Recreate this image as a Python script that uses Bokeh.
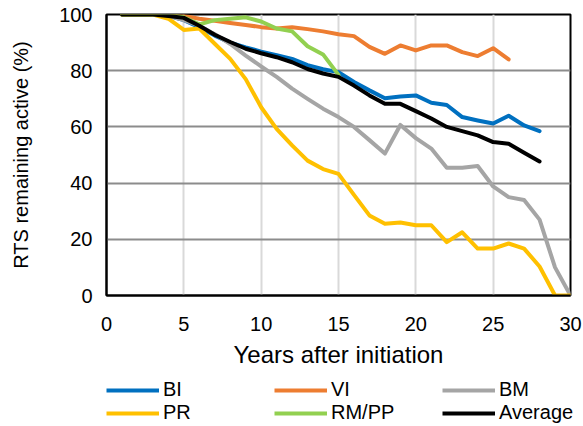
from bokeh.plotting import figure
from bokeh.layouts import column, row
from bokeh.models import Range1d, Legend, LegendItem, FixedTicker
from bokeh.embed import file_html
from bokeh.resources import INLINE

years = list(range(1, 31))

bi = [100, 100, 100, 99.5, 98, 95.5, 92.5, 90, 88.3, 86.8, 85.5, 84.2, 82, 80.5, 79.5,
      76, 73, 70.2, 70.8, 71.2, 68.6, 67.8, 63.5, 62.3, 61.2, 64, 60.5, 58.5]
vi = [100, 100, 100, 100, 99.5, 98.5, 97.8, 97, 96.3, 95.5, 95, 95.5, 94.8, 94, 93,
      92.3, 88.5, 86, 89, 87.2, 89, 89, 86.6, 85.2, 88, 84]
bm = [100, 100, 100, 99.5, 98, 96, 93, 89.5, 85.4, 81.5, 77.8, 73.6, 70, 66.5, 63.5,
      60, 55.3, 50.5, 60.7, 56, 52.3, 45.5, 45.5, 46.1, 38.8, 35, 34, 27, 10, 0]
pr = [100, 100, 100, 98.5, 94.5, 95, 89.6, 84.2, 77, 67, 59.3, 53.4, 48, 45, 43.3,
      35.8, 28.5, 25.5, 26, 25, 25, 19, 22.5, 16.7, 16.7, 18.5, 16.7, 10.3, 0, 0]
rmpp = [100, 100, 100, 100, 99, 96.5, 98, 98.5, 99, 97.5, 95, 94, 88.7, 85.8, 78.5]
average = [100, 100, 100, 99.5, 98.8, 96, 92.8, 90.2, 87.8, 86.2, 84.8, 83, 80.6, 79, 77.8,
           74.7, 71.2, 68.2, 68.2, 65.6, 63, 60, 58.5, 57, 54.6, 54, 50.8, 47.7]

series = [
    ("BI", bi, "#0070C0"),
    ("VI", vi, "#ED7D31"),
    ("BM", bm, "#A5A5A5"),
    ("PR", pr, "#FFC000"),
    ("RM/PP", rmpp, "#92D050"),
    ("Average", average, "#000000"),
]

x_ticks = [0, 5, 10, 15, 20, 25, 30]
y_ticks = [0, 20, 40, 60, 80, 100]

FONT = "Liberation Sans"
LW = 4

p = figure(width=583, height=370, output_backend="svg", toolbar_location=None,
           x_range=Range1d(0, 30), y_range=Range1d(0, 100),
           min_border_left=106, min_border_right=13, min_border_top=14, min_border_bottom=75)

p.outline_line_color = "#000000"
p.outline_line_width = 2
p.outline_line_alpha = 1

p.xgrid.grid_line_color = "#D9D9D9"
p.xgrid.grid_line_width = 2
p.ygrid.grid_line_color = "#8C8C8C"
p.ygrid.grid_line_width = 2

p.xaxis.ticker = FixedTicker(ticks=x_ticks)
p.yaxis.ticker = FixedTicker(ticks=y_ticks)
for ax in (p.xaxis[0], p.yaxis[0]):
    ax.major_tick_line_color = None
    ax.minor_tick_line_color = None
    ax.axis_line_color = "#000000"
    ax.axis_line_width = 2
    ax.major_label_text_font = FONT
    ax.major_label_text_font_size = "20px"
    ax.major_label_text_color = "#000000"
    ax.axis_label_text_font = FONT
    ax.axis_label_text_font_style = "normal"
    ax.axis_label_text_color = "#000000"

p.xaxis.axis_label = "Years after initiation"
p.yaxis.axis_label = "RTS remaining active (%)"
p.xaxis.axis_label_text_font_size = "24px"
p.yaxis.axis_label_text_font_size = "20px"
p.xaxis.major_label_standoff = 15
p.xaxis.axis_label_standoff = 7
p.yaxis.major_label_standoff = 8
p.yaxis.axis_label_standoff = 24

for name, vals, color in series:
    p.line(years[:len(vals)], vals, line_color=color, line_width=LW,
           line_join="round", line_cap="round")

# legend: three narrow panels, one per legend column (rows: BI VI BM / PR RM/PP Average)
col_groups = [[series[0], series[3]], [series[1], series[4]], [series[2], series[5]]]
col_widths = [274, 168, 141]
col_left = [106, 0, 0]

panels = []
for grp, w, left in zip(col_groups, col_widths, col_left):
    f = figure(width=w, height=56, output_backend="svg", toolbar_location=None,
               x_range=Range1d(-100, -90), y_range=Range1d(-100, -90),
               x_axis_location=None, y_axis_location=None,
               min_border_left=left, min_border_right=0, min_border_top=8, min_border_bottom=0)
    f.outline_line_color = None
    f.xgrid.visible = False
    f.ygrid.visible = False
    items = []
    for name, vals, color in grp:
        r = f.line(years[:len(vals)], vals, line_color=color, line_width=LW)
        items.append(LegendItem(label=name, renderers=[r]))
    leg = Legend(items=items, orientation="vertical",
                 location="top_left", margin=0, padding=2, spacing=0,
                 glyph_width=53, glyph_height=20, label_standoff=4,
                 label_text_font=FONT, label_text_font_size="20px", label_text_color="#000000",
                 border_line_color=None, background_fill_alpha=0)
    f.add_layout(leg, "center")
    panels.append(f)

layout = column(p, row(*panels, spacing=0), spacing=0)

open("out.html", "w").write(file_html(layout, INLINE))
